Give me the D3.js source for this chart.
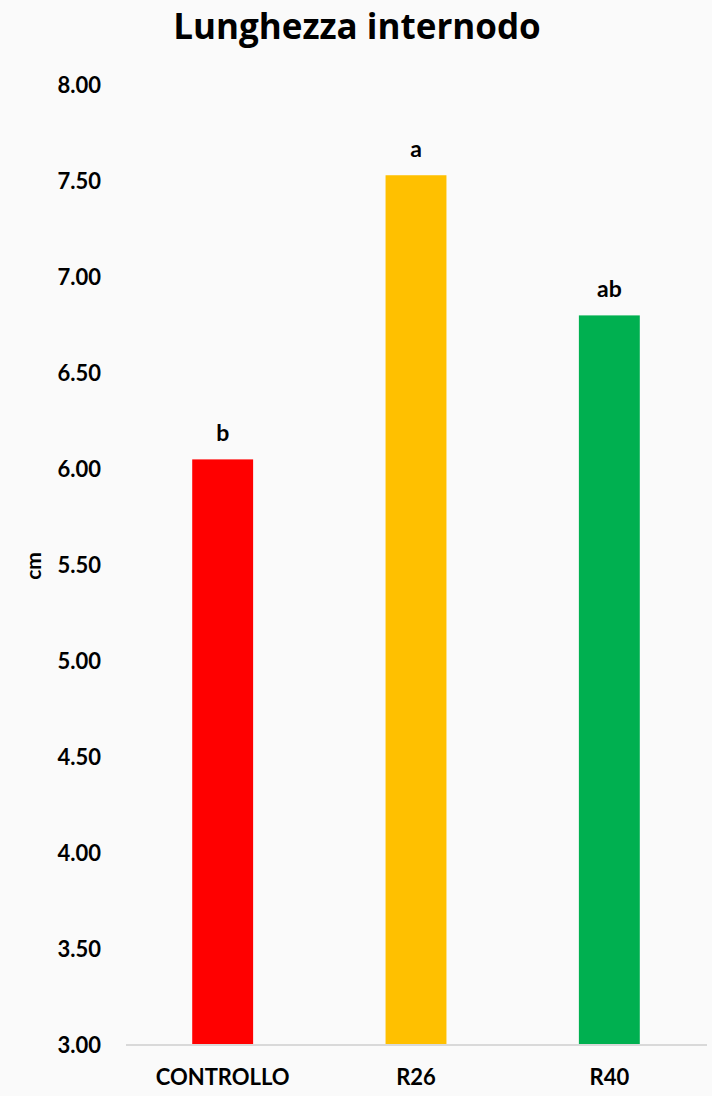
<!DOCTYPE html>
<html>
  <head>
    <script src="https://d3js.org/d3.v7.min.js"></script>
    <style>
      body { margin: 0; background-color: #fafafa; }
      text { font-family: Lato, "Open Sans", sans-serif; font-weight: bold; fill: #000; }
    </style>
  </head>
  <body>
    <svg id="chart" width="712" height="1096"></svg>
  </body>
  <script>
    const categories = ['CONTROLLO', 'R26', 'R40']
    const values = [6.05, 7.53, 6.80]
    const letters = ['b', 'a', 'ab']
    const colors = ['#ff0000', '#ffc000', '#00b050']
    const yTicks = [3.0, 3.5, 4.0, 4.5, 5.0, 5.5, 6.0, 6.5, 7.0, 7.5, 8.0]

    const svg = d3.select('#chart')
    svg.append('rect').attr('width', 712).attr('height', 1096).attr('fill', '#fafafa')

    const x = d3.scaleBand().domain(categories).range([126, 706]).paddingInner(0.685).paddingOuter(0.3425)
    const y = d3.scaleLinear().domain([3, 8]).range([1045, 85])

    // title
    svg.append('text')
      .attr('x', 357).attr('y', 39)
      .attr('text-anchor', 'middle')
      .style('font-family', '"Open Sans", sans-serif')
      .style('font-size', '35px')
      .text('Lunghezza internodo')

    // y axis labels (no line)
    const yAxis = svg.append('g').attr('transform', 'translate(101,0)')
      .call(d3.axisLeft(y).tickValues(yTicks).tickFormat(d3.format('.2f')).tickSize(0).tickPadding(0))
    yAxis.select('.domain').remove()
    yAxis.selectAll('text').style('font-size', '22px').attr('font-family', null)

    // axis title
    svg.append('text')
      .attr('transform', 'translate(41,566) rotate(-90)')
      .attr('text-anchor', 'middle')
      .style('font-size', '21px')
      .text('cm')

    // bars
    svg.selectAll('rect.bar').data(values).join('rect')
      .attr('class', 'bar')
      .attr('x', (d, i) => x(categories[i]))
      .attr('width', x.bandwidth())
      .attr('y', d => y(d))
      .attr('height', d => y(3) - y(d))
      .attr('fill', (d, i) => colors[i])

    // letters
    svg.selectAll('text.letter').data(values).join('text')
      .attr('class', 'letter')
      .attr('x', (d, i) => x(categories[i]) + x.bandwidth() / 2)
      .attr('y', d => y(d) - 18)
      .attr('text-anchor', 'middle')
      .style('font-size', '23px')
      .text((d, i) => letters[i])

    // x axis
    const xAxis = svg.append('g').attr('transform', 'translate(0,1045)')
      .call(d3.axisBottom(x).tickSize(0).tickPadding(24))
    xAxis.select('.domain').attr('d', 'M126,0H707').attr('stroke', '#d9d9d9').attr('stroke-width', 2)
    xAxis.selectAll('text').style('font-size', '22px').attr('font-family', null)
  </script>
</html>
